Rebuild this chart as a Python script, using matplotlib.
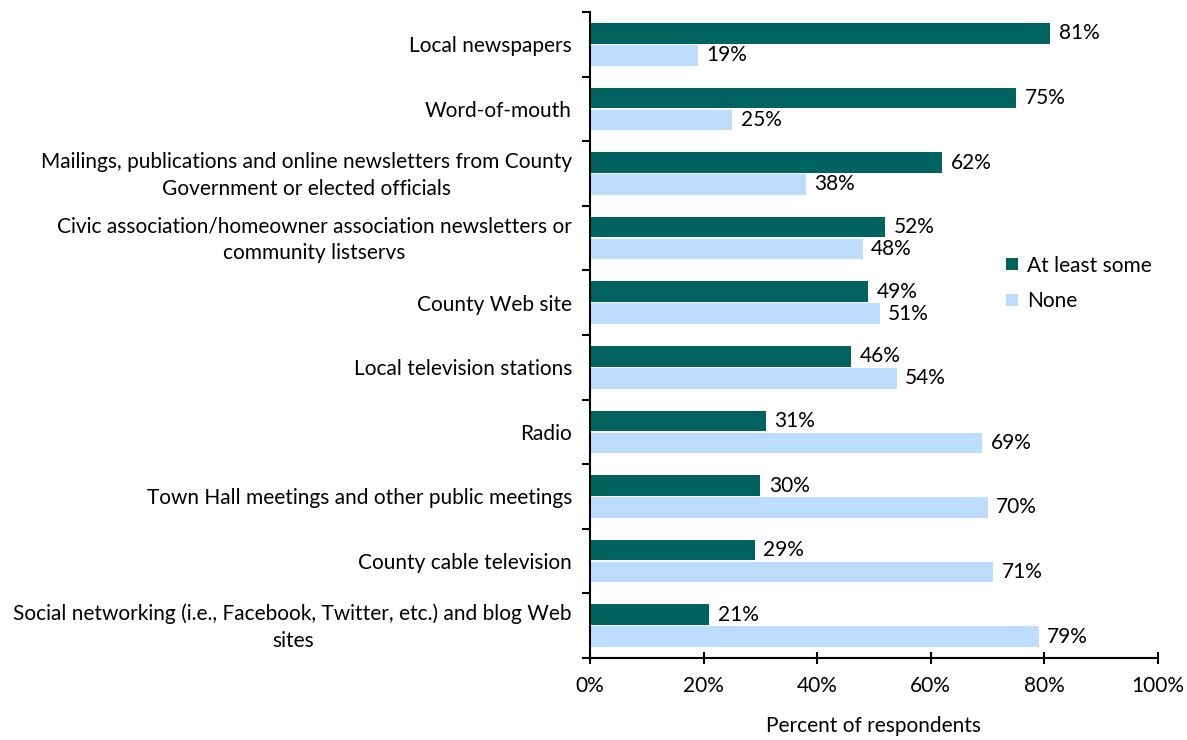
import matplotlib
matplotlib.use("Agg")
import matplotlib.pyplot as plt
import numpy as np
from matplotlib.ticker import FuncFormatter, FixedLocator

plt.rcParams['font.family'] = ['Lato', 'DejaVu Sans']

categories = [
    "Local newspapers",
    "Word-of-mouth",
    "Mailings, publications and online newsletters from County\nGovernment or elected officials",
    "Civic association/homeowner association newsletters or\ncommunity listservs",
    "County Web site",
    "Local television stations",
    "Radio",
    "Town Hall meetings and other public meetings",
    "County cable television",
    "Social networking (i.e., Facebook, Twitter, etc.) and blog Web\nsites",
]
at_least_some = [81, 75, 62, 52, 49, 46, 31, 30, 29, 21]
none = [19, 25, 38, 48, 51, 54, 69, 70, 71, 79]
series_names = ["At least some", "None"]
x_ticks = [0, 20, 40, 60, 80, 100]
x_label = "Percent of respondents"

dark = "#006360"
light = "#BDDDFF"

fig = plt.figure(figsize=(11.87, 7.40), dpi=100)
ax = fig.add_axes([590 / 1187, 1 - 658 / 740, (1158 - 590) / 1187, (658 - 12) / 740])

n = len(categories)
y = np.arange(n)
h = 0.32
off = 0.17
b1 = ax.barh(y - off, at_least_some, height=h, color=dark, label=series_names[0])
b2 = ax.barh(y + off, none, height=h, color=light, label=series_names[1])

fs = 15
for bars, vals in ((b1, at_least_some), (b2, none)):
    for rect, v in zip(bars, vals):
        ax.text(v + 1.5, rect.get_y() + rect.get_height() / 2, f"{v}%",
                va="center", ha="left", fontsize=fs, color="black")

ax.set_ylim(n - 0.5, -0.5)
ax.set_xlim(0, 100)
ax.xaxis.set_major_locator(FixedLocator(x_ticks))
ax.xaxis.set_major_formatter(FuncFormatter(lambda v, p: f"{v:.0f}%"))
ax.tick_params(axis="x", direction="inout", length=8, width=1.5, labelsize=fs, pad=9)

# group boundaries carry the tick marks; labels sit on the group centres
ax.set_yticks(np.arange(n + 1) - 0.5, minor=False)
ax.set_yticklabels([])
label_pos = [yy - (0.06 if "\n" in c else 0.0) for yy, c in zip(y, categories)]
ax.set_yticks(label_pos, minor=True)
ax.set_yticklabels(categories, minor=True, fontsize=fs, multialignment="center",
                   linespacing=1.45)
ax.tick_params(axis="y", which="minor", length=0, pad=13)
ax.tick_params(axis="y", which="major", direction="out", length=6, width=1.5)

for s in ("top", "right"):
    ax.spines[s].set_visible(False)
for s in ("left", "bottom"):
    ax.spines[s].set_linewidth(1.5)

ax.set_xlabel(x_label, fontsize=fs, labelpad=14)

ax.legend(loc="upper left", bbox_to_anchor=(0.70, 0.652), frameon=False, fontsize=fs,
          handlelength=0.55, handleheight=0.55, handletextpad=0.45, labelspacing=0.75)

fig.savefig("out.png", dpi=100)
